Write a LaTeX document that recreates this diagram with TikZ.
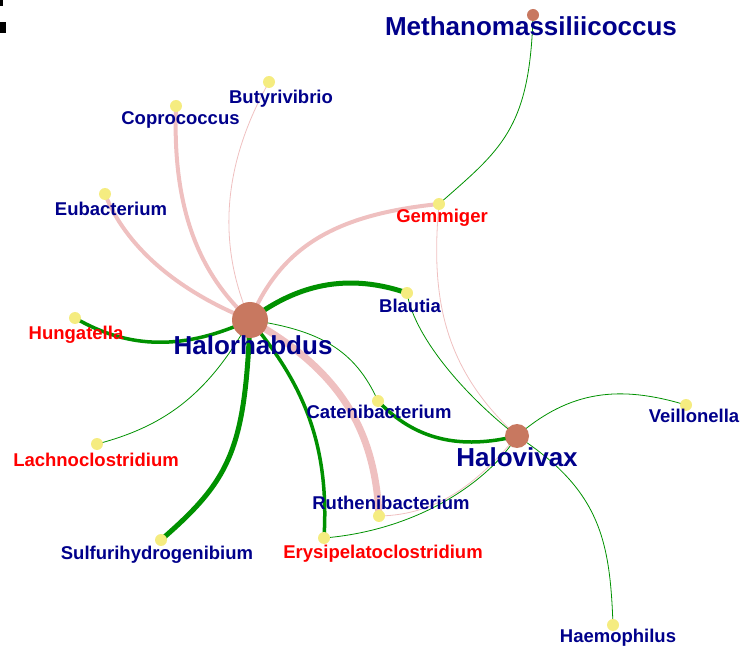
\documentclass[tikz,border=0pt]{standalone}
\usepackage{fontspec}
\setmainfont{Liberation Sans}
\definecolor{taxblue}{RGB}{0,0,139}
\definecolor{taxred}{RGB}{255,0,0}
\definecolor{poslink}{RGB}{0,145,0}
\definecolor{neglink}{RGB}{239,192,192}
\definecolor{hubfill}{RGB}{200,120,96}
\definecolor{leaffill}{RGB}{245,236,128}

\begin{document}
\begin{tikzpicture}[x=1pt,y=-1pt,
  pos/.style={draw=poslink,line width=#1},
  neg/.style={draw=neglink,line width=#1},
  lab/.style={anchor=base,inner sep=0pt,font=\fontsize{18.5}{20}\selectfont\bfseries,text=taxblue},
  redlab/.style={lab,text=taxred},
  hublab/.style={lab,font=\fontsize{26}{28}\selectfont\bfseries}]
\useasboundingbox (0,0) rectangle (756,655);
\fill (0,0) rectangle (3,6);
\fill (0,22) rectangle (6,33);
% points
\coordinate (hal) at (250,320);
\coordinate (hvx) at (517,436);
\coordinate (met) at (533,15);
\coordinate (but) at (269,82);
\coordinate (cop) at (176,106);
\coordinate (eub) at (105,194);
\coordinate (gem) at (439,204);
\coordinate (bla) at (407,293);
\coordinate (hun) at (75,318);
\coordinate (lac) at (97,444);
\coordinate (cat) at (378,401);
\coordinate (rut) at (379,516);
\coordinate (ery) at (324,538);
\coordinate (sul) at (161,540);
\coordinate (vei) at (686,405);
\coordinate (hae) at (613,625);
% negative links
\draw[neg=4] (hal) .. controls (200,275) and (172,210) .. (cop);
\draw[neg=4] (eub) .. controls (125,245) and (175,290) .. (hal);
\draw[neg=0.8] (but) .. controls (225,160) and (215,240) .. (hal);
\draw[neg=4] (hal) .. controls (280,250) and (330,215) .. (gem);
\draw[neg=7] (hal) .. controls (340,370) and (375,430) .. (rut);
\draw[neg=0.8] (gem) .. controls (430,300) and (445,370) .. (hvx);
\draw[neg=0.8] (rut) .. controls (440,515) and (480,480) .. (hvx);
% positive links
\draw[pos=5] (hal) .. controls (290,290) and (340,270) .. (bla);
\draw[pos=3.5] (hun) .. controls (130,350) and (185,350) .. (hal);
\draw[pos=0.8] (lac) .. controls (170,425) and (210,390) .. (hal);
\draw[pos=5] (hal) .. controls (245,450) and (230,480) .. (sul);
\draw[pos=3.5] (hal) .. controls (300,380) and (330,440) .. (ery);
\draw[pos=0.8] (hal) .. controls (320,330) and (355,350) .. (cat);
\draw[pos=3.5] (cat) .. controls (415,440) and (460,450) .. (hvx);
\draw[pos=0.8] (bla) .. controls (415,340) and (470,400) .. (hvx);
\draw[pos=0.8] (met) .. controls (530,130) and (500,150) .. (gem);
\draw[pos=0.8] (hvx) .. controls (570,390) and (620,385) .. (vei);
\draw[pos=0.8] (hvx) .. controls (600,490) and (610,540) .. (hae);
\draw[pos=0.8] (ery) .. controls (420,530) and (490,480) .. (hvx);
% vertices
\fill[hubfill] (hal) circle (18);
\fill[hubfill] (hvx) circle (12);
\fill[hubfill] (met) circle (6);
\foreach \p in {but,cop,eub,gem,bla,hun,lac,cat,rut,ery,sul,vei,hae}
  \fill[leaffill] (\p) circle (6);
% labels
\node[hublab] (met-l) at (531,36) {Methanomassiliicoccus};
\node[hublab] (hal-l) at (253,355) {Halorhabdus};
\node[hublab] (hvx-l) at (517,466) {Halovivax};
\node[lab] (but-l) at (281,104) {Butyrivibrio};
\node[lab] (cop-l) at (180.5,125) {Coprococcus};
\node[lab] (eub-l) at (111,216) {Eubacterium};
\node[redlab] (gem-l) at (442,223) {Gemmiger};
\node[lab] (bla-l) at (410,313) {Blautia};
\node[redlab] (hun-l) at (76,340) {Hungatella};
\node[redlab] (lac-l) at (96,466) {Lachnoclostridium};
\node[lab] (cat-l) at (379,419) {Catenibacterium};
\node[lab] (rut-l) at (391,509) {Ruthenibacterium};
\node[redlab] (ery-l) at (383,558) {Erysipelatoclostridium};
\node[lab] (sul-l) at (157,559) {Sulfurihydrogenibium};
\node[lab] (vei-l) at (694,422) {Veillonella};
\node[lab] (hae-l) at (618,642) {Haemophilus};
\end{tikzpicture}
\end{document}
